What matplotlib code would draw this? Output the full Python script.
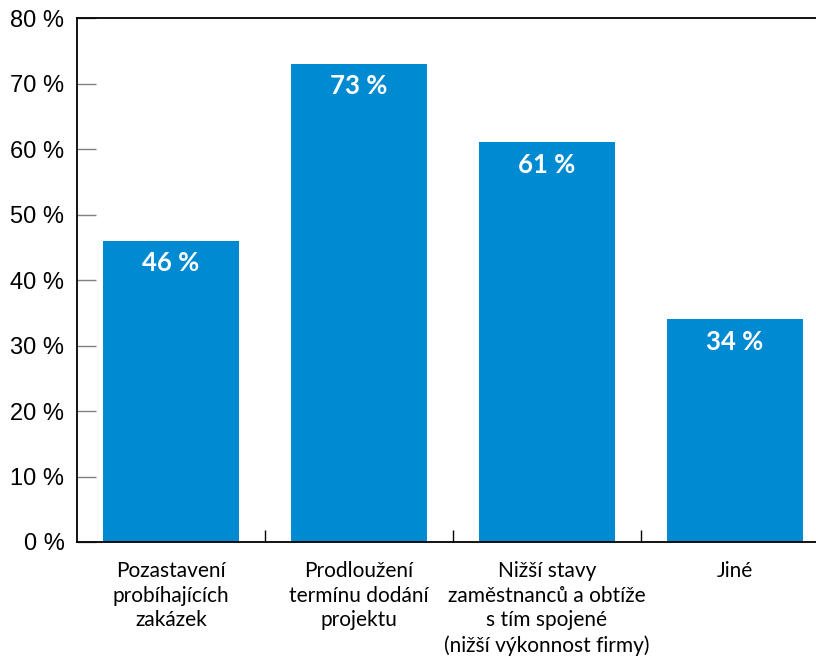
import numpy as np
import matplotlib
matplotlib.use('Agg')
import matplotlib.pyplot as plt
from matplotlib.ticker import FixedLocator

# ── Data ─────────────────────────────────────────────────────────
categories = [
    'Pozastavení\nprobíhajících\nzakázek',
    'Prodloužení\ntermínu dodání\nprojektu',
    'Nižší stavy\nzaměstnanců a obtíže\ns tím spojené\n(nižší výkonnost firmy)',
    'Jiné',
]
values = [46, 73, 61, 34]
yticks = [0, 10, 20, 30, 40, 50, 60, 70, 80]

bar_color = '#008AD2'

W, H = 816, 657
fig = plt.figure(figsize=(W / 100, H / 100), dpi=100)
ax = fig.add_axes([77 / W, (H - 542) / H, (829 - 77) / W, (542 - 18) / H])

x = np.arange(len(values))
ax.bar(x, values, width=0.72, color=bar_color, zorder=2)

for xi, v in zip(x, values):
    ax.text(xi, v - 3.4, f'{v} %', ha='center', va='center', color='white',
            fontsize=18.5, fontweight='bold', family='Lato')

ax.set_xlim(-0.5, 3.5)
ax.set_ylim(0, 80)
ax.set_yticks(yticks)
ax.set_yticklabels([f'{t} %' for t in yticks], family='Liberation Sans', fontsize=17)
ax.tick_params(axis='y', direction='in', length=13.5, width=1, color='#808080', pad=9)

ax.set_xticks(x)
ax.set_xticklabels(categories, family='Lato', fontsize=15, linespacing=1.28,
                   va='top')
ax.tick_params(axis='x', which='major', length=0, pad=14)
ax.xaxis.set_minor_locator(FixedLocator([0.5, 1.5, 2.5]))
ax.tick_params(axis='x', which='minor', direction='in', length=8.5, width=1, color='black')

for side in ['left', 'bottom', 'top']:
    ax.spines[side].set_linewidth(1.3)
    ax.spines[side].set_color('black')
ax.spines['right'].set_visible(False)

fig.savefig('out.png', dpi=100)
